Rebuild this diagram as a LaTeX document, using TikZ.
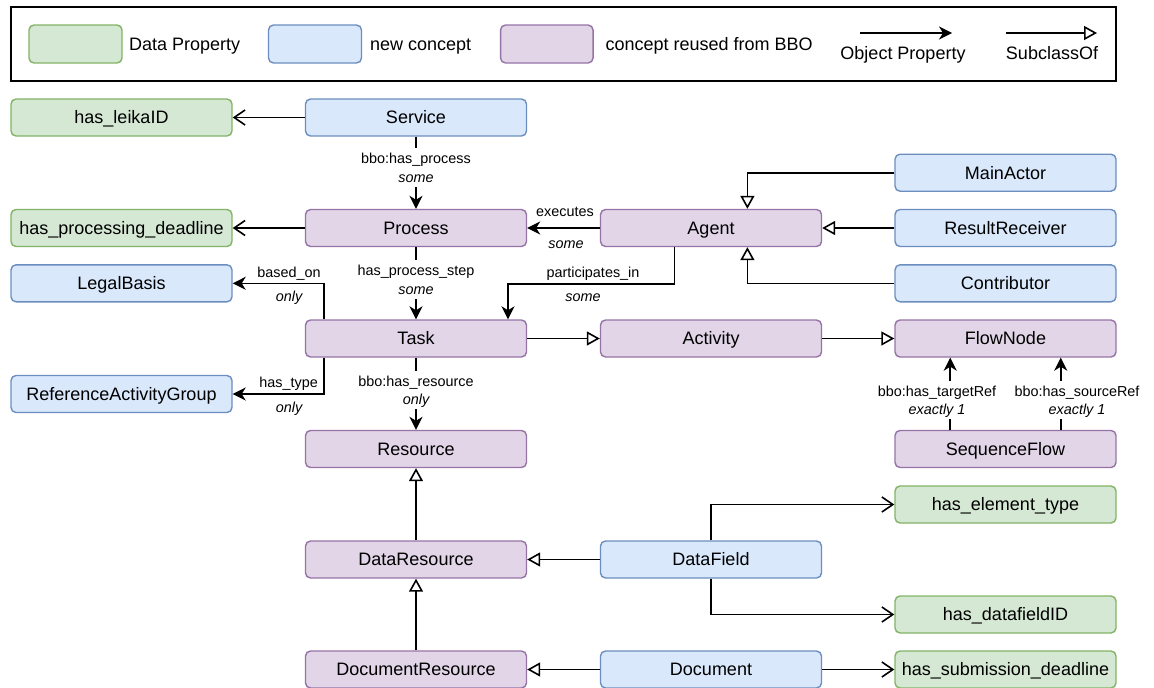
\documentclass[tikz,border=0pt]{standalone}
\usepackage{fontspec}
\setmainfont{Liberation Sans}
\usetikzlibrary{arrows.meta,calc}
\definecolor{dpfill}{HTML}{D5E8D4}\definecolor{dpline}{HTML}{82B366}
\definecolor{ncfill}{HTML}{DAE8FC}\definecolor{ncline}{HTML}{6C8EBF}
\definecolor{bbofill}{HTML}{E1D5E7}\definecolor{bboline}{HTML}{9673A6}
\begin{document}
\begin{tikzpicture}[x=1pt,y=-1pt,
  box/.style={rounded corners=5pt, line width=1.4pt, minimum width=221pt, minimum height=37pt,
    inner sep=0pt, font=\fontsize{18}{21.6}\selectfont, text height=12.9pt, text depth=0pt},
  dataprop/.style={box, fill=dpfill, draw=dpline},
  newconcept/.style={box, fill=ncfill, draw=ncline},
  bboconcept/.style={box, fill=bbofill, draw=bboline},
  conn/.style={line width=1.6pt},
  objprop/.style={conn, -{Stealth[length=13pt,width=13pt,inset=4pt]}},
  subclass/.style={conn, -{Triangle[open,length=13pt,width=14pt,fill=white]}},
  datalink/.style={conn, -{Straight Barb[length=11pt,width=15pt]}},
  lbl/.style={font=\fontsize{14.4}{17}\selectfont, inner sep=0pt, text height=10.3pt, text depth=0pt},
  card/.style={lbl, font=\fontsize{14.4}{17}\selectfont\itshape},
  cover/.style={fill=white, inner xsep=1pt, inner ysep=4.6pt},
  legtext/.style={anchor=west, inner sep=0pt, font=\fontsize{18}{21.6}\selectfont, text height=12.9pt, text depth=0pt}
]
\useasboundingbox (0,0) rectangle (1154,688);

% ---------- legend ----------
\node[draw, line width=1.4pt, minimum width=1105pt, minimum height=74pt, inner sep=0pt] (legend) at (563.5,44) {};
\node[dataprop, minimum width=93pt, minimum height=38pt] (legdp) at (75.5,44) {};
\node[legtext] (legdptxt) at (129,44) {Data Property};
\node[newconcept, minimum width=93pt, minimum height=38pt] (legnc) at (315,44) {};
\node[legtext] (legnctxt) at (370,44) {new concept};
\node[bboconcept, minimum width=92.5pt, minimum height=38pt] (legbbo) at (546.8,44) {};
\node[legtext] (legbbotxt) at (605.4,44) {concept reused from BBO};
\coordinate (legop1) at (860,33);
\coordinate (legop2) at (952,33);
\draw[objprop] (legop1) -- (legop2);
\node[lbl, font=\fontsize{18}{21.6}\selectfont, text height=12.9pt] (legoptxt) at (903,53) {Object Property};
\coordinate (legsc1) at (1006,33);
\coordinate (legsc2) at (1097,33);
\draw[subclass] (legsc1) -- (legsc2);
\node[lbl, font=\fontsize{18}{21.6}\selectfont, text height=12.9pt] (legsctxt) at (1052,53) {SubclassOf};

% ---------- concepts ----------
\node[dataprop]   (leika)     at (121.5,117.5) {has\_leikaID};
\node[newconcept] (service)   at (416,117.5)   {Service};
\node[newconcept] (mainactor) at (1005.5,172.7) {MainActor};
\node[dataprop]   (procdl)    at (121.5,228)   {has\_processing\_deadline};
\node[bboconcept] (process)   at (416,228)     {Process};
\node[bboconcept] (agent)     at (711,228)     {Agent};
\node[newconcept] (receiver)  at (1005.5,228)  {ResultReceiver};
\node[newconcept] (legal)     at (121.5,283.3) {LegalBasis};
\node[newconcept] (contrib)   at (1005.5,283.3) {Contributor};
\node[bboconcept] (task)      at (416,338.5)   {Task};
\node[bboconcept] (activity)  at (711,338.5)   {Activity};
\node[bboconcept] (flownode)  at (1005.5,338.5) {FlowNode};
\node[newconcept] (refgroup)  at (121.5,394)   {ReferenceActivityGroup};
\node[bboconcept] (resource)  at (416,449)     {Resource};
\node[bboconcept] (seqflow)   at (1005.5,449)  {SequenceFlow};
\node[dataprop]   (elemtype)  at (1005.5,504.5) {has\_element\_type};
\node[bboconcept] (datares)   at (416,559.5)   {DataResource};
\node[newconcept] (datafield) at (711,559.5)   {DataField};
\node[dataprop]   (dfid)      at (1005.5,614.5) {has\_datafieldID};
\node[bboconcept] (docres)    at (416,669.5)   {DocumentResource};
\node[newconcept] (document)  at (711,669.5)   {Document};
\node[dataprop]   (subdl)     at (1005.5,669.5) {has\_submission\_deadline};

% ---------- data properties ----------
\draw[datalink] (service.west) -- (leika.east);
\draw[datalink] (process.west) -- (procdl.east);
\draw[datalink] (datafield.north) |- (elemtype.west);
\draw[datalink] (datafield.south) |- (dfid.west);
\draw[datalink] (document.east) -- (subdl.west);

% ---------- object properties ----------
\draw[objprop] (service.south) -- (process.north);
\draw[objprop] (process.south) -- (task.north);
\draw[objprop] (task.south) -- (resource.north);
\draw[objprop] (agent.west) -- (process.east);
\draw[objprop] ([xshift=-36.7pt]agent.south) -- ++(0,36.5) -| ([xshift=92pt]task.north);
\draw[objprop] ([xshift=-92pt]task.north) |- (legal.east);
\draw[objprop] ([xshift=-92pt]task.south) |- (refgroup.east);
\draw[objprop] ([xshift=-55.25pt]seqflow.north) -- ([xshift=-55.25pt]flownode.south);
\draw[objprop] ([xshift=55.25pt]seqflow.north) -- ([xshift=55.25pt]flownode.south);

% ---------- subclass relations ----------
\draw[subclass] (mainactor.west) -| ([xshift=36.4pt]agent.north);
\draw[subclass] (receiver.west) -- (agent.east);
\draw[subclass] (contrib.west) -| ([xshift=36.4pt]agent.south);
\draw[subclass] (task.east) -- (activity.west);
\draw[subclass] (activity.east) -- (flownode.west);
\draw[subclass] (datares.north) -- (resource.south);
\draw[subclass] (docres.north) -- (datares.south);
\draw[subclass] (datafield.west) -- (datares.east);
\draw[subclass] (document.west) -- (docres.east);

% ---------- edge labels ----------
\node[lbl, cover]  (lhp1) at (416,158)   {bbo:has\_process};
\node[card, cover] (lhp2) at (416,177)   {some};
\node[lbl, cover]  (lps1) at (416,270)   {has\_process\_step};
\node[card, cover] (lps2) at (416,289)   {some};
\node[lbl, cover]  (lhr1) at (416,381)   {bbo:has\_resource};
\node[card, cover] (lhr2) at (416,399.5) {only};
\node[lbl, cover]  (ltr1) at (937,391)   {bbo:has\_targetRef};
\node[card, cover] (ltr2) at (937,409)   {exactly 1};
\node[lbl, cover]  (lsr1) at (1077,391)  {bbo:has\_sourceRef};
\node[card, cover] (lsr2) at (1077,409)  {exactly 1};
\node[lbl]  (lex1) at (565,211.7) {executes};
\node[card] (lex2) at (566,243.3) {some};
\node[lbl]  (lpi1) at (593,272.7) {participates\_in};
\node[card] (lpi2) at (583,296.7) {some};
\node[lbl]  (lbo1) at (289,272.7) {based\_on};
\node[card] (lbo2) at (289,296.7) {only};
\node[lbl]  (lht1) at (288.6,382.7) {has\_type};
\node[card] (lht2) at (289,407.3) {only};
\end{tikzpicture}
\end{document}
